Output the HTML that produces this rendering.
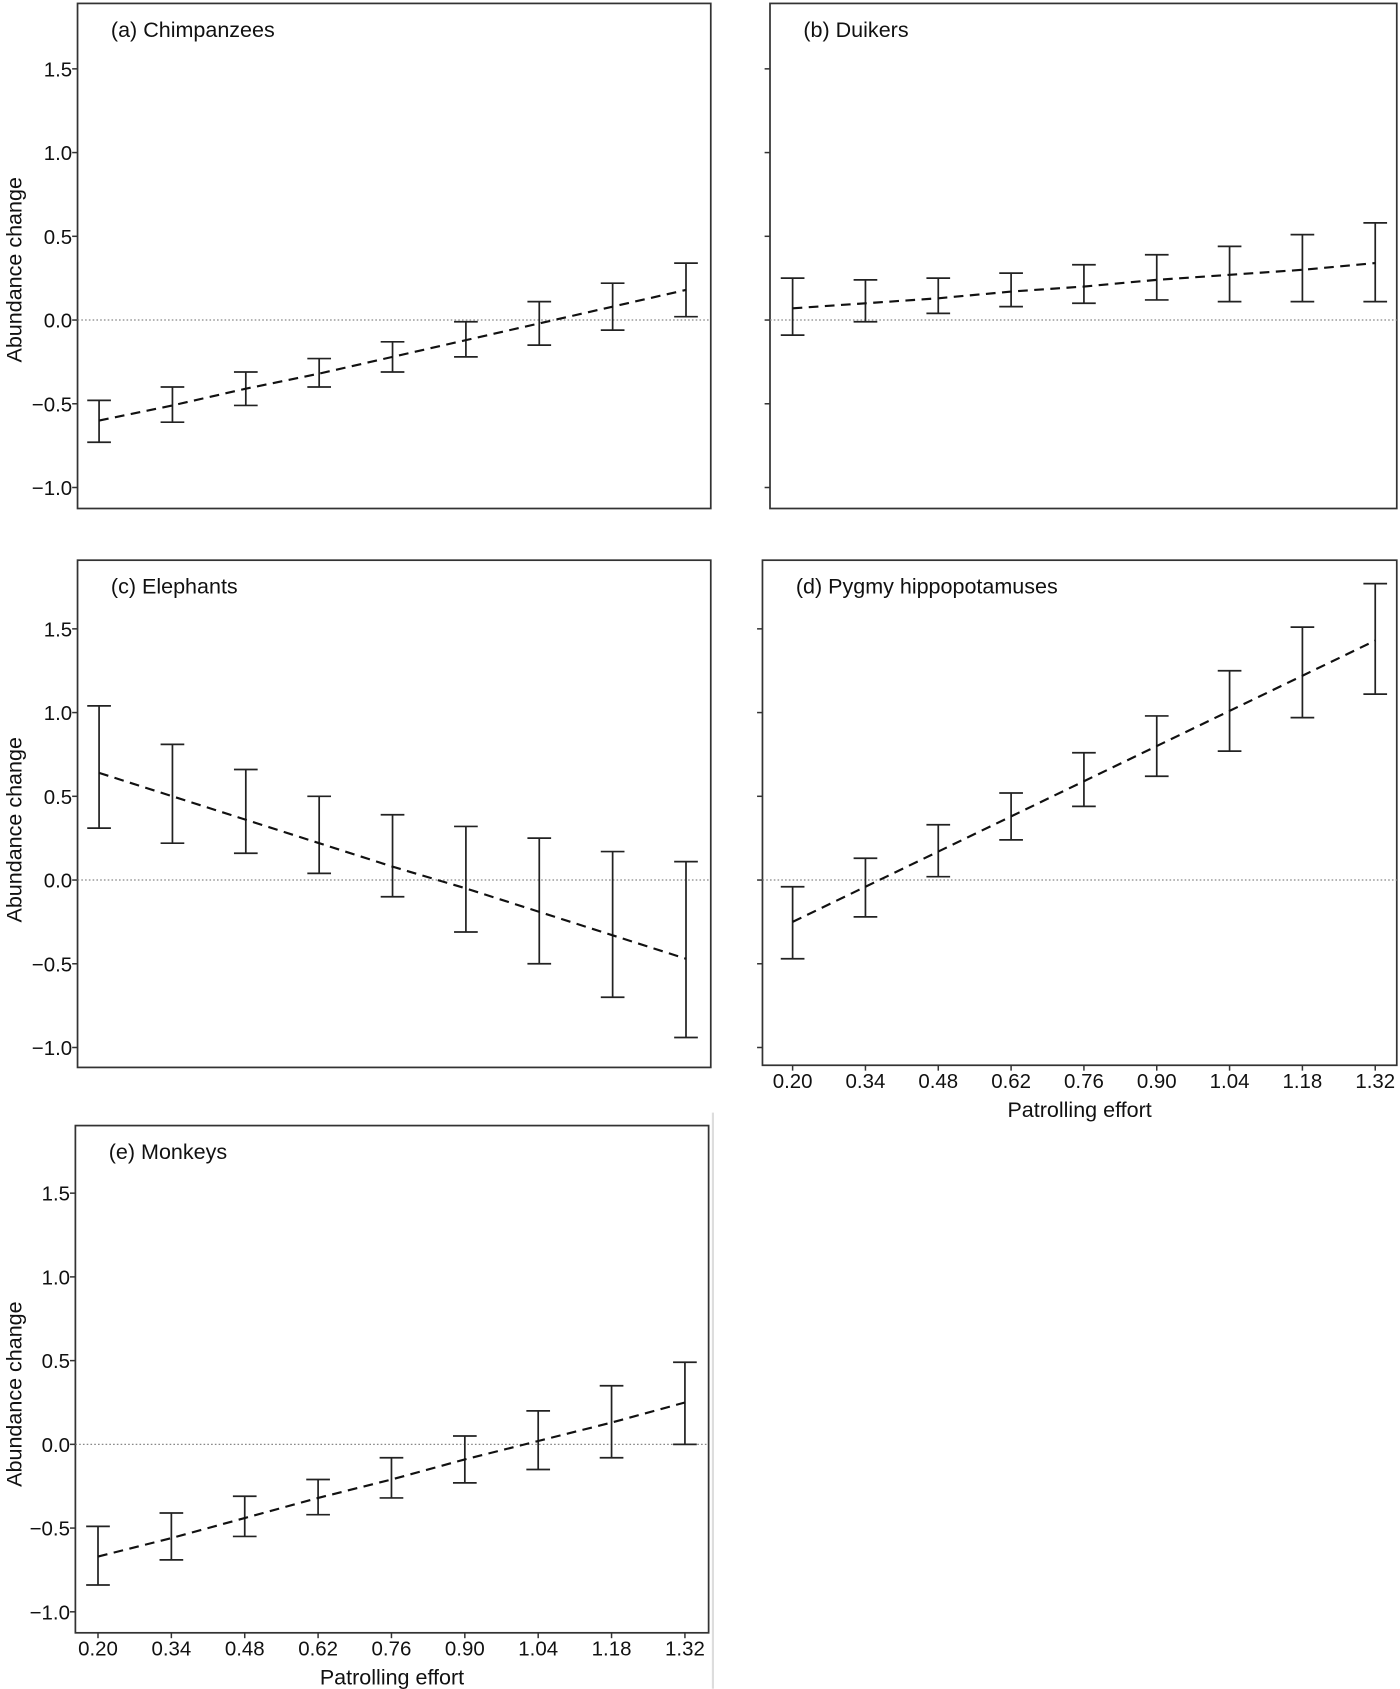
<!DOCTYPE html>
<html><head><meta charset="utf-8">
<style>
html,body{margin:0;padding:0;background:#fff;}
svg{display:block;}
text{font-family:"Liberation Sans",Arial,sans-serif;fill:#111;}
</style></head>
<body>
<svg id="fig" xmlns="http://www.w3.org/2000/svg" width="1400" height="1689" viewBox="0 0 1300 1568">
<line x1="662" y1="1033" x2="662" y2="1568" stroke="#ddd" stroke-width="2"/>
</svg>
<script>
const xCats = [0.20, 0.34, 0.48, 0.62, 0.76, 0.90, 1.04, 1.18, 1.32];
const xTickLabels = ["0.20","0.34","0.48","0.62","0.76","0.90","1.04","1.18","1.32"];
const yTicks = [1.5, 1.0, 0.5, 0.0, -0.5, -1.0];
const yTickLabels = ["1.5","1.0","0.5","0.0","\u22120.5","\u22121.0"];

const chimpMean = [-0.60,-0.51,-0.41,-0.32,-0.22,-0.12,-0.02,0.08,0.18];
const chimpLow  = [-0.73,-0.61,-0.51,-0.40,-0.31,-0.22,-0.15,-0.06,0.02];
const chimpHigh = [-0.48,-0.40,-0.31,-0.23,-0.13,-0.01,0.11,0.22,0.34];

const duikerMean = [0.07,0.10,0.13,0.17,0.20,0.24,0.27,0.30,0.34];
const duikerLow  = [-0.09,-0.01,0.04,0.08,0.10,0.12,0.11,0.11,0.11];
const duikerHigh = [0.25,0.24,0.25,0.28,0.33,0.39,0.44,0.51,0.58];

const elephMean = [0.64,0.50,0.36,0.22,0.08,-0.05,-0.19,-0.33,-0.47];
const elephLow  = [0.31,0.22,0.16,0.04,-0.10,-0.31,-0.50,-0.70,-0.94];
const elephHigh = [1.04,0.81,0.66,0.50,0.39,0.32,0.25,0.17,0.11];

const hippoMean = [-0.25,-0.04,0.17,0.38,0.59,0.80,1.01,1.22,1.43];
const hippoLow  = [-0.47,-0.22,0.02,0.24,0.44,0.62,0.77,0.97,1.11];
const hippoHigh = [-0.04,0.13,0.33,0.52,0.76,0.98,1.25,1.51,1.77];

const monkMean = [-0.67,-0.56,-0.44,-0.32,-0.21,-0.09,0.02,0.13,0.25];
const monkLow  = [-0.84,-0.69,-0.55,-0.42,-0.32,-0.23,-0.15,-0.08,0.00];
const monkHigh = [-0.49,-0.41,-0.31,-0.21,-0.08,0.05,0.20,0.35,0.49];

const NS = "http://www.w3.org/2000/svg";
const svg = document.getElementById('fig');
function mk(tag, attrs, parent){
  const e = document.createElementNS(NS, tag);
  for (const k in attrs) e.setAttribute(k, attrs[k]);
  (parent||svg).appendChild(e);
  return e;
}

const panels = [
  {id:'a', title:'(a) Chimpanzees', L:72, R:660, T:3, B:472, zero:297, x0:92, x1:637, ylabels:true, xlabels:false, mean:chimpMean, low:chimpLow, high:chimpHigh},
  {id:'b', title:'(b) Duikers', L:715, R:1297, T:3, B:472, zero:297, x0:736, x1:1277, ylabels:false, xlabels:false, mean:duikerMean, low:duikerLow, high:duikerHigh},
  {id:'c', title:'(c) Elephants', L:72, R:660, T:520, B:991, zero:817, x0:92, x1:637, ylabels:true, xlabels:false, mean:elephMean, low:elephLow, high:elephHigh},
  {id:'d', title:'(d) Pygmy hippopotamuses', L:708, R:1297, T:520, B:989, zero:817, x0:736, x1:1277, ylabels:false, xlabels:true, mean:hippoMean, low:hippoLow, high:hippoHigh},
  {id:'e', title:'(e) Monkeys', L:70, R:658, T:1045, B:1516, zero:1341, x0:91, x1:636, ylabels:true, xlabels:true, mean:monkMean, low:monkLow, high:monkHigh}
];
const UNIT = 155.5;

panels.forEach(p => {
  const g = mk('g', {});
  
  
  const xs = v => p.x0 + (v - xCats[0]) / (xCats[xCats.length-1] - xCats[0]) * (p.x1 - p.x0);
  const ys = v => p.zero - v * UNIT;

  const frame = mk('rect', {x:p.L, y:p.T, width:p.R-p.L, height:p.B-p.T, fill:'none', stroke:'#333', 'stroke-width':1.6}, g);
  
  

  const zl = mk('line', {x1:p.L, x2:p.R, y1:ys(0), y2:ys(0), stroke:'#888', 'stroke-width':1.2, 'stroke-dasharray':'1.5 2'}, g);
  
  

  yTicks.forEach((t, i) => {
    const tk = mk('line', {x1:p.L-5, x2:p.L, y1:ys(t), y2:ys(t), stroke:'#333', 'stroke-width':1.4}, g);
    
    
    if (p.ylabels) {
      const tl = mk('text', {x:p.L-5, y:ys(t)+7, 'text-anchor':'end', 'font-size':19}, g);
      tl.textContent = yTickLabels[i];
      
      
    }
  });

  if (p.ylabels) {
    const cy = ys(0.3);
    const yt = mk('text', {x:20, y:cy, 'text-anchor':'middle', 'font-size':20, transform:'rotate(-90 20 '+cy+')'}, g);
    yt.textContent = 'Abundance change';
    
    
  }

  if (p.xlabels) {
    xCats.forEach((c, i) => {
      const tk = mk('line', {x1:xs(c), x2:xs(c), y1:p.B, y2:p.B+5, stroke:'#333', 'stroke-width':1.4}, g);
      
      
      const tl = mk('text', {x:xs(c), y:p.B+21, 'text-anchor':'middle', 'font-size':19}, g);
      tl.textContent = xTickLabels[i];
      
      
    });
    const xt = mk('text', {x:(p.L+p.R)/2, y:p.B+48, 'text-anchor':'middle', 'font-size':20}, g);
    xt.textContent = 'Patrolling effort';
    
    
  }

  const ttl = mk('text', {x:p.L+31, y:p.T+31, 'font-size':20}, g);
  ttl.textContent = p.title;
  
  

  xCats.forEach((c, i) => {
    const x = xs(c);
    const eg = mk('g', {stroke:'#222', 'stroke-width':1.6}, g);
    
    
    mk('line', {x1:x, x2:x, y1:ys(p.low[i]), y2:ys(p.high[i])}, eg);
    mk('line', {x1:x-11, x2:x+11, y1:ys(p.low[i]), y2:ys(p.low[i])}, eg);
    mk('line', {x1:x-11, x2:x+11, y1:ys(p.high[i]), y2:ys(p.high[i])}, eg);
  });

  const pts = xCats.map((c, i) => xs(c) + ',' + ys(p.mean[i])).join(' ');
  const ml = mk('polyline', {points:pts, fill:'none', stroke:'#111', 'stroke-width':2, 'stroke-dasharray':'9 6'}, g);
  
  
});
</script>
</body></html>
